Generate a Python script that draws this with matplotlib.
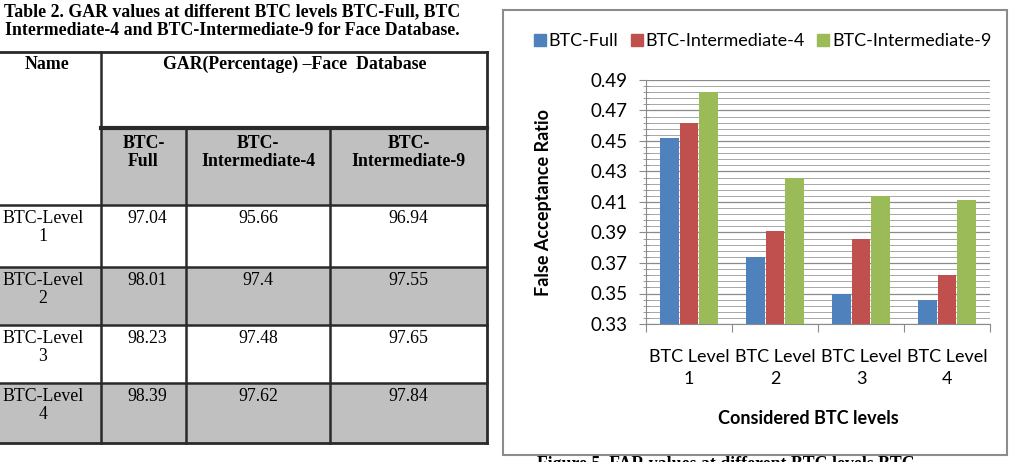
import numpy as np
import matplotlib.pyplot as plt
from matplotlib.patches import Rectangle
from matplotlib.lines import Line2D
from matplotlib.ticker import FixedLocator, NullFormatter

# chart data
levels = ['BTC Level\n1', 'BTC Level\n2', 'BTC Level\n3', 'BTC Level\n4']
series = ['BTC-Full', 'BTC-Intermediate-4', 'BTC-Intermediate-9']
far_full = [0.452, 0.374, 0.350, 0.346]
far_int4 = [0.462, 0.391, 0.386, 0.362]
far_int9 = [0.482, 0.426, 0.414, 0.411]
colors = ['#4F81BD', '#C0504D', '#9BBB59']

# table data
table_title = ('Table 2. GAR values at different BTC levels BTC-Full, BTC\n'
               'Intermediate-4 and BTC-Intermediate-9 for Face Database.')
row_names = ['BTC-Level\n1', 'BTC-Level\n2', 'BTC-Level\n3', 'BTC-Level\n4']
col_names = ['BTC-\nFull', 'BTC-\nIntermediate-4', 'BTC-\nIntermediate-9']
gar_full = ['97.04', '98.01', '98.23', '98.39']
gar_int4 = ['95.66', '97.4', '97.48', '97.62']
gar_int9 = ['96.94', '97.55', '97.65', '97.84']

W, H = 1011, 462
fig = plt.figure(figsize=(W / 100, H / 100), dpi=100)
serif = 'Liberation Serif'
sans = 'Lato'

# ---- table (drawn in pixel coords on an overlay axes) ----
tab = fig.add_axes([0, 0, 1, 1])
tab.set_xlim(0, W)
tab.set_ylim(H, 0)
tab.axis('off')

cols = [0, 101, 186, 330, 487]
rows = [52, 128, 205, 267, 325, 383, 443]
gray = '#C0C0C0'
line = '#2a2a2a'

tab.add_patch(Rectangle((cols[1], rows[1]), cols[4] - cols[1], rows[2] - rows[1], color=gray, lw=0))
for r in (3, 5):
    tab.add_patch(Rectangle((0, rows[r]), cols[4], rows[r + 1] - rows[r], color=gray, lw=0))

tab.text(232, 3, table_title, ha='center', va='top', family=serif, weight='bold',
         fontsize=12.8, linespacing=1.12)

# borders
tab.plot([0, cols[4]], [rows[0], rows[0]], color=line, lw=2)
tab.plot([0, cols[4]], [rows[-1], rows[-1]], color=line, lw=2)
tab.plot([cols[4], cols[4]], [rows[0], rows[-1]], color=line, lw=2)
tab.plot([cols[1], cols[1]], [rows[0], rows[-1]], color=line, lw=1.8)
for c in cols[2:4]:
    tab.plot([c, c], [rows[1], rows[-1]], color=line, lw=1.8)
tab.plot([cols[1], cols[4]], [rows[1], rows[1]], color=line, lw=3)
for r in rows[2:-1]:
    tab.plot([0, cols[4]], [r, r], color=line, lw=1.8)

fs = 12.8
tab.text(47, 56, 'Name', ha='center', va='top', family=serif, weight='bold', fontsize=fs)
tab.text(295, 56, 'GAR(Percentage) \u2013Face  Database', ha='center', va='top',
         family=serif, weight='bold', fontsize=fs)
for j, name in enumerate(col_names):
    tab.text((cols[j + 1] + cols[j + 2]) / 2, 135, name, ha='center', va='top', family=serif,
             weight='bold', fontsize=fs, linespacing=1.1)

for i, vals in enumerate(zip(row_names, gar_full, gar_int4, gar_int9)):
    top = rows[i + 2] + 5
    tab.text(43, top, vals[0], ha='center', va='top', family=serif, fontsize=fs, linespacing=1.05)
    for j in range(3):
        tab.text((cols[j + 1] + cols[j + 2]) / 2 + (4 if j == 0 else 0), top, vals[j + 1],
                 ha='center', va='top', family=serif, fontsize=fs)

# chart frame and caption (caption is cut by the page edge in the original)
tab.add_patch(Rectangle((503, 10), 504, 445, fill=False, edgecolor='#8c8c8c', lw=1.5))
tab.text(537, 456, 'Figure 5. FAR values at different BTC levels BTC-', ha='left', va='top',
         family=serif, weight='bold', fontsize=fs)

# ---- bar chart ----
ax = fig.add_axes([646 / W, 1 - 324 / H, (990 - 646) / W, (324 - 80) / H])
x = list(range(len(levels)))
width = 0.21
step = 0.227
for k, (vals, name) in enumerate(zip([far_full, far_int4, far_int9], series)):
    ax.bar([xi + (k - 1) * step for xi in x], vals, width, color=colors[k], label=name, zorder=3)

ax.set_xlim(-0.5, len(levels) - 0.5)
ax.set_ylim(0.33, 0.49)
ax.yaxis.set_major_locator(FixedLocator(np.arange(0.33, 0.4901, 0.02)))
ax.yaxis.set_minor_locator(FixedLocator(np.arange(0.33, 0.4901, 0.004)))
ax.yaxis.set_major_formatter(plt.FuncFormatter(lambda v, p: f'{v:.2f}'))
ax.grid(True, which='major', axis='y', color='#8a8a8a', lw=0.9, zorder=0)
ax.grid(True, which='minor', axis='y', color='#a8a8a8', lw=0.7, zorder=0)
ax.set_axisbelow(True)

ax.xaxis.set_major_locator(FixedLocator([i - 0.5 for i in range(len(levels) + 1)]))
ax.xaxis.set_major_formatter(NullFormatter())
ax.xaxis.set_minor_locator(FixedLocator(x))
ax.set_xticklabels(levels, minor=True)
ax.tick_params(axis='x', which='minor', length=0, pad=18, labelsize=13)
ax.tick_params(axis='x', which='major', length=6, color='#8a8a8a', direction='out')
ax.tick_params(axis='y', which='major', length=5, color='#8a8a8a', labelsize=13.5, pad=8)
ax.tick_params(axis='y', which='minor', length=4, color='#8a8a8a', direction='inout')
for lab in ax.get_xticklabels(minor=True):
    lab.set_family(sans)
    lab.set_multialignment('center')
    lab.set_linespacing(1.5)
for lab in ax.get_yticklabels():
    lab.set_family(sans)

for s in ('top', 'right'):
    ax.spines[s].set_visible(False)
for s in ('left', 'bottom'):
    ax.spines[s].set_color('#8a8a8a')

fig.text(543 / W, 1 - 202 / H, 'False Acceptance Ratio', rotation=90, ha='center', va='center',
         family=sans, weight='bold', fontsize=13)
fig.text(808 / W, 1 - 419 / H, 'Considered BTC levels', ha='center', va='center',
         family=sans, weight='bold', fontsize=13)

handles = [Line2D([], [], marker='s', ls='', color=c, markersize=8) for c in colors]
fig.legend(handles, series, loc='center', bbox_to_anchor=(762 / W, 1 - 41 / H), ncol=3,
           frameon=False, prop={'family': sans, 'size': 13}, handletextpad=0.1,
           columnspacing=0.6, handlelength=0.8)

fig.savefig('out.png', dpi=100)
